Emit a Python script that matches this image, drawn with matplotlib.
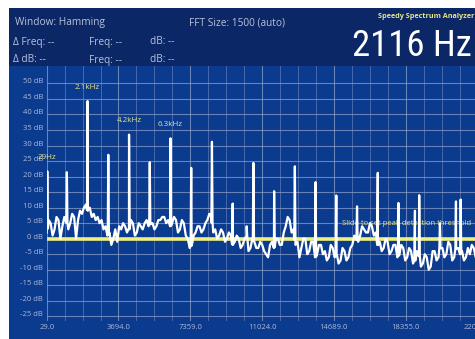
import numpy as np
import matplotlib
matplotlib.use("Agg")
import matplotlib.pyplot as plt
import matplotlib.font_manager as fm
from matplotlib.patches import Rectangle
from matplotlib.ticker import FixedLocator

# ---------------- data ----------------
floor_start_hz = 29
floor_step_hz = 100
noise_floor_db = [2, 6, 5, 1, 3, 7, 6, 0, 4, 7,
                  6, 3, 5, 8, 7, 0, 6, 9, 8, 10,
                  11, 9, 10, 7, 8, 6, 7, 5, 6, 3,
                  4, 1, 2, -2, 0, 3, -1, 4, 3, 5,
                  4, 2, 3, 6, 5, 1, 2, 5, 4, 3,
                  5, 6, 4, 5, 5, 3, 4, 6, 6, 7,
                  7, 5, 6, 4, 5, 7, 6, 2, 3, 6,
                  5, 1, 0, -3, -2, 1, 2, 4, 4, 2,
                  3, 5, 6, 8, 7, 2, 3, 0, 1, 3,
                  2, -1, 0, 2, 1, -2, -1, 1, 0, -3,
                  -2, 0, 1, -4, -3, 0, -1, -3, -3, -1,
                  -2, -4, -5, -6, -2, -1, -3, 0, 0, -2,
                  -2, 2, 4, 7, 6, 2, 3, -2, -1, -6,
                  -3, 0, 0, -5, -4, -1, -1, -6, -5, -2,
                  -2, -5, -4, -7, -6, -2, -3, -6, -5, -8,
                  -7, -3, -4, -7, -6, -3, -2, 1, 0, -1,
                  1, 4, 3, 2, 2, 5, 4, 1, 2, -2,
                  -1, -4, -3, 0, -1, -5, -4, -2, -2, -6,
                  -5, -2, -3, -7, -6, -3, -4, -8, -7, -4,
                  -5, -9, -8, -5, -6, -10, -9, -4, -4, -7,
                  -6, -2, -3, -6, -5, -1, -2, -7, -6, -3,
                  -3, -5, -4, -7, -6, -3, -5, -2, -3, -6,
                  -5]

peak_freqs_hz = [60, 1058, 2116, 3174, 4232, 5290, 6348, 7406, 8464, 9522,
                 10580, 11638, 12696, 13754, 14812, 15870, 16928, 17986,
                 19044, 20102, 21160, 10237, 18827, 20920]
peak_db = [21.7, 21.4, 44.3, 27.0, 33.5, 24.6, 32.3, 22.8, 31.2, 11.3,
           24.4, 15.3, 23.3, 18.2, 13.9, 10.4, 21.2, 11.5, 14.0, 5.0,
           12.6, 4.0, 9.0, 12.0]

label_peak_index = [0, 2, 4, 6]
label_texts = ["29Hz", "2.1kHz", "4.2kHz", "6.3kHz"]

x_tick_values = [29.0, 3694.0, 7359.0, 11024.0, 14689.0, 18355.0, 22020.0]
y_tick_values = [50, 45, 40, 35, 30, 25, 20, 15, 10, 5, 0, -5, -10, -15, -20, -25]
threshold_db = 0

header_left = ["Window: Hamming", "\u0394 Freq: --", "\u0394 dB: --"]
header_mid1 = ["Freq: --", "Freq: --"]
header_mid2 = ["dB: --", "dB: --"]
fft_text = "FFT Size: 1500 (auto)"
app_title = "Speedy Spectrum Analyzer"
readout = "2116 Hz"
hint_text = "Slide to set peak detection threshold"

# ---------------- build trace ----------------
floor_f = floor_start_hz + floor_step_hz * np.arange(len(noise_floor_db))
floor_v = np.array(noise_floor_db, dtype=float)
fx = list(floor_f)
fy = list(floor_v)
for f, v in zip(peak_freqs_hz, peak_db):
    base = np.interp(f, floor_f, floor_v)
    fx += [f - 30, f, f + 30]
    fy += [base, v, base]
order = np.argsort(fx, kind="stable")
trace_f = np.array(fx)[order]
trace_v = np.array(fy)[order]

# ---------------- figure ----------------
W, H = 475, 339
fig = plt.figure(figsize=(W / 100, H / 100), dpi=100)
fig.patch.set_facecolor("white")

def fx_(px):
    return px / W

def fy_(py):
    return 1 - py / H

main_blue = "#0b3b8f"
head_blue = "#0b2766"
fig.add_artist(Rectangle((fx_(9), 0), 1 - fx_(9), fy_(8), transform=fig.transFigure,
                         facecolor=main_blue, edgecolor="none", zorder=0))
fig.add_artist(Rectangle((fx_(9), fy_(66)), 1 - fx_(9), fy_(8) - fy_(66),
                         transform=fig.transFigure, facecolor=head_blue,
                         edgecolor="none", zorder=0))

ax = fig.add_axes([fx_(46.7), 18 / H, 431.4 / W, 255 / H])
ax.set_facecolor("none")
ax.set_xlim(29, 22050)
ax.set_ylim(-26.5, 55.6)
for s in ax.spines.values():
    s.set_visible(False)

ax.set_xticks(x_tick_values)
ax.set_xticklabels([f"{v:.1f}" for v in x_tick_values])
step = (x_tick_values[1] - x_tick_values[0]) / 4
minor = [x_tick_values[0] + step * i for i in range(25) if i % 4 != 0]
ax.xaxis.set_minor_locator(FixedLocator(minor))
ax.set_yticks(y_tick_values)
ax.set_yticklabels([f"{v} dB" for v in y_tick_values])
ax.tick_params(axis="both", which="both", length=0, colors="#aeb8d8",
               labelsize=5.5)
ax.tick_params(axis="x", pad=2.5)
ax.tick_params(axis="y", pad=2.5)
for lab in ax.get_yticklabels() + ax.get_xticklabels():
    lab.set_family(["Open Sans", "DejaVu Sans"])
for lab in ax.get_yticklabels():
    lab.set_va("baseline")

ax.grid(True, which="major", color="#8a9cc8", lw=0.8, alpha=0.75)
ax.grid(True, which="minor", axis="x", color="#8a9cc8", lw=0.6, alpha=0.55)
ax.set_axisbelow(True)

ax.axhline(threshold_db, color="#f2f07c", lw=2.6, zorder=2)
ax.text(15100, 4.8, hint_text, color="#e6e48c", fontsize=5.5, ha="left",
        va="center", family=["Open Sans", "DejaVu Sans"], zorder=2.5, clip_on=False)
ax.plot(trace_f, trace_v, color="white", lw=1.6, zorder=3)

for i, t in zip(label_peak_index, label_texts):
    ax.annotate(t, (peak_freqs_hz[i], peak_db[i]), xytext=(0, 10),
                textcoords="offset points", ha="center", va="center",
                color="#e6e48c", fontsize=5.8, family=["Open Sans", "DejaVu Sans"],
                zorder=4, annotation_clip=False)

# ---------------- header ----------------
hcol = "#b9c2dc"
hfam = ["Open Sans", "DejaVu Sans"]
rows_y = [23, 42, 60]
for t, yy in zip(header_left, rows_y):
    fig.text(fx_(13 if yy != 23 else 15), fy_(yy), t, color=hcol, fontsize=7.3,
             family=hfam, va="center", ha="left")
for t, yy in zip(header_mid1, rows_y[1:]):
    fig.text(fx_(89), fy_(yy), t, color=hcol, fontsize=7.3, family=hfam,
             va="center", ha="left")
for t, yy in zip(header_mid2, rows_y[1:]):
    fig.text(fx_(150), fy_(yy), t, color=hcol, fontsize=7.3, family=hfam,
             va="center", ha="left")
fig.text(fx_(189), fy_(23), fft_text, color=hcol, fontsize=7.3, family=hfam,
         va="center", ha="left")
fig.text(fx_(378), fy_(17), app_title, color="#e6e48c", fontsize=5.2,
         family=hfam, weight="bold", va="center", ha="left")

avail = {f.name for f in fm.fontManager.ttflist}
readout_font = "DejaVu Sans"
for cand in ["Liberation Sans Narrow", "DejaVu Sans Condensed", "Roboto Condensed",
             "Open Sans Condensed", "Roboto"]:
    if cand in avail:
        readout_font = cand
        break
rt = fig.text(fx_(352), fy_(56.5), readout, color="white", fontsize=29,
              family=readout_font, va="baseline", ha="left")
renderer = fig.canvas.get_renderer()
wpx = rt.get_window_extent(renderer).width
if wpx > 120:
    rt.set_fontsize(29 * 120 / wpx)

fig.savefig("out.png", dpi=100)
